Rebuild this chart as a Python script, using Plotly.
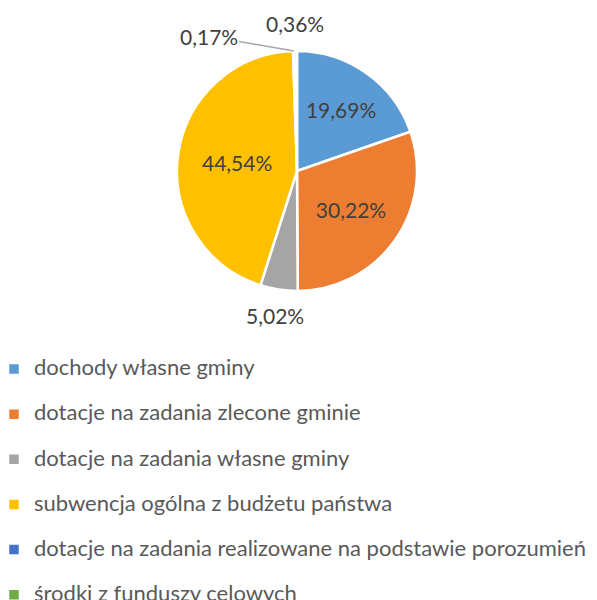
import math
import plotly.graph_objects as go

categories = [
    "dochody własne gminy",
    "dotacje na zadania zlecone gminie",
    "dotacje na zadania własne gminy",
    "subwencja ogólna z budżetu państwa",
    "dotacje na zadania realizowane na podstawie porozumień",
    "środki z funduszy celowych",
]
shares = [19.69, 30.22, 5.02, 44.54, 0.17, 0.36]
colors = ["#5B9BD5", "#ED7D31", "#A5A5A5", "#FFC000", "#4472C4", "#70AD47"]
positions = ["inside", "inside", "none", "inside", "none", "none"]

W, H = 597, 600
# the page adds an 8px body margin, so positions are given 8px up/left
cx, cy, r = 289, 163, 120

legend_labels = []
for i, c in enumerate(categories):
    lab = '<span style="font-size:22px">' + c + '</span>'
    if i < len(categories) - 1:
        lab += '<br> '
    legend_labels.append(lab)

fig = go.Figure(go.Pie(
    labels=legend_labels,
    values=shares,
    sort=False,
    direction="clockwise",
    rotation=0,
    marker=dict(colors=colors, line=dict(color="white", width=2.5)),
    textposition=positions,
    texttemplate="%{value:.2f}%",
    textfont=dict(family="Lato, sans-serif", size=21, color="#404040"),
    insidetextorientation="horizontal",
    domain=dict(x=[(cx - r) / W, (cx + r) / W], y=[1 - (cy + r) / H, 1 - (cy - r) / H]),
    hoverinfo="percent",
))

# outside labels, placed along each slice's mid angle
total = sum(shares)


def mid_point(idx, extra):
    start = sum(shares[:idx])
    theta = 2 * math.pi * (start + shares[idx] / 2) / total
    rr = r + extra
    return cx + rr * math.sin(theta), cy - rr * math.cos(theta)


def fmt(v):
    return f"{v:.2f}".replace(".", ",") + "%"


label_font = dict(family="Lato, sans-serif", size=21, color="#404040")

tip_x, tip_y = mid_point(4, 0)
fig.add_annotation(
    x=tip_x / W, y=1 - tip_y / H, xref="paper", yref="paper",
    text=fmt(shares[4]), showarrow=True, arrowhead=0, arrowwidth=1.5,
    arrowcolor="#A6A6A6", ax=-85, ay=-15, standoff=0, font=label_font,
)
lab_x, lab_y = mid_point(5, 28)
fig.add_annotation(
    x=lab_x / W, y=1 - lab_y / H, xref="paper", yref="paper",
    text=fmt(shares[5]), showarrow=False,
    xanchor="center", yanchor="middle", font=label_font,
)
lab_x, lab_y = mid_point(2, 26)
fig.add_annotation(
    x=lab_x / W, y=1 - lab_y / H, xref="paper", yref="paper",
    text=fmt(shares[2]), showarrow=False,
    xanchor="center", yanchor="middle", font=label_font,
)

fig.update_layout(
    width=W, height=H,
    margin=dict(l=0, r=0, t=0, b=0, autoexpand=False),
    paper_bgcolor="white",
    separators=", ",
    showlegend=True,
    legend=dict(
        x=-14 / W, xanchor="left", y=1 - 344 / H, yanchor="top",
        font=dict(family="Lato, sans-serif", size=16.2, color="#595959"),
        valign="top",
        bgcolor="rgba(0,0,0,0)",
    ),
)

fig.write_html("out.html")
